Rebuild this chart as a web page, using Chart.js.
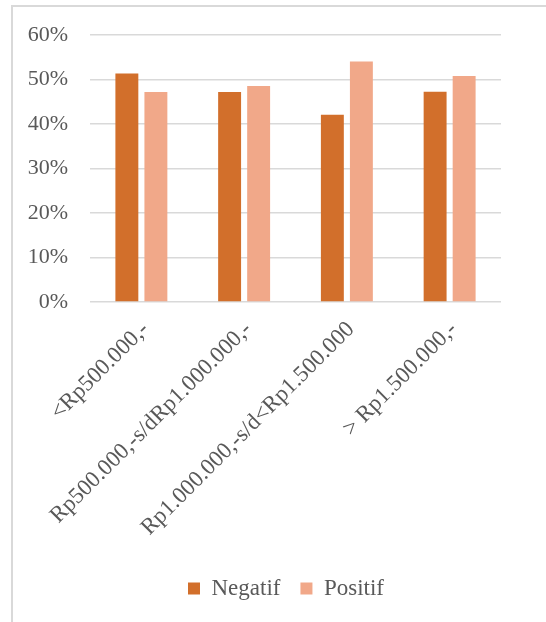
<!DOCTYPE html>
<html>
<head>
<meta charset="utf-8">
<script src="https://cdn.jsdelivr.net/npm/chart.js@4"></script>
<style>
  html, body { margin: 0; padding: 0; background: #fff; overflow: hidden; }
  #frame { position: absolute; left: 11px; top: 5px; width: 600px; height: 700px; border: 2px solid #d9d9d9; }
  canvas { position: absolute; left: 0; top: 0; }
</style>
</head>
<body>
<div id="frame"></div>
<canvas id="chart" width="546" height="622"></canvas>
<script>
// data
const categories = ['<Rp500.000,-', 'Rp500.000,-s/dRp1.000.000,-', 'Rp1.000.000,-s/d<Rp1.500.000', '> Rp1.500.000,-']
const negatif = [51.4, 47.2, 42.1, 47.3]
const positif = [47.2, 48.6, 54.1, 50.8]
const yTicks = [0, 10, 20, 30, 40, 50, 60]

const textColor = '#595959'
const fontFamily = '"Liberation Serif", "Times New Roman", serif'

const ctx = document.getElementById('chart').getContext('2d')

const chart = new Chart(ctx, {
  type: 'bar',
  data: {
    labels: categories,
    datasets: [
      {
        label: 'Negatif',
        data: negatif,
        backgroundColor: '#d26f2b',
        categoryPercentage: 0.565,
        barPercentage: 0.79
      },
      {
        label: 'Positif',
        data: positif,
        backgroundColor: '#f1a889',
        categoryPercentage: 0.565,
        barPercentage: 0.79
      }
    ]
  },
  options: {
    responsive: false,
    animation: false,
    layout: {
      padding: { left: 26, right: 0, top: 23, bottom: 12 }
    },
    plugins: {
      tooltip: { enabled: false },
      legend: {
        position: 'bottom',
        labels: {
          color: textColor,
          font: { family: fontFamily, size: 23 },
          boxWidth: 12,
          boxHeight: 12,
          padding: 20
        }
      }
    },
    scales: {
      x: {
        // fixed height so the plot bottom sits where the reference has it
        afterFit: scale => { scale.height = 255 },
        grid: { display: false, drawTicks: false },
        border: { display: false },
        ticks: {
          color: textColor,
          font: { family: fontFamily, size: 23 },
          minRotation: 45,
          maxRotation: 45,
          padding: 14,
          labelOffset: 4
        }
      },
      y: {
        min: 0,
        max: 60,
        afterFit: scale => { scale.width = 64 },
        afterBuildTicks: scale => {
          scale.ticks = yTicks.map(v => ({ value: v }))
        },
        grid: { color: '#d9d9d9', lineWidth: 1.5, drawTicks: false },
        border: { display: false },
        ticks: {
          color: textColor,
          font: { family: fontFamily, size: 22 },
          padding: 22,
          callback: v => v + '%'
        }
      },
      // empty right-hand space, keeps the legend centred like the reference
      spacer: {
        type: 'linear',
        position: 'right',
        min: 0,
        max: 1,
        afterFit: scale => { scale.width = 45 },
        grid: { display: false, drawTicks: false },
        border: { display: false },
        ticks: { display: false }
      }
    }
  }
})
</script>
</body>
</html>
